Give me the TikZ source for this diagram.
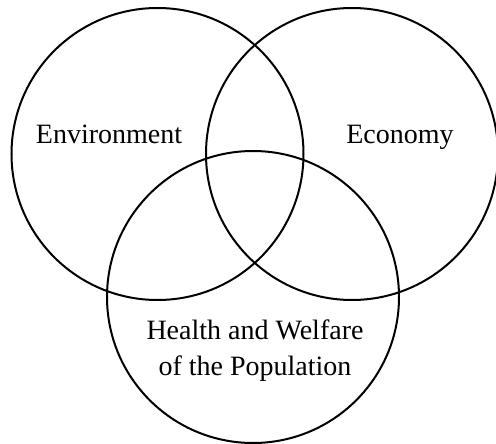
\documentclass[tikz,border=0pt]{standalone}
\usepackage{fontspec}
\setmainfont{Liberation Serif}

\begin{document}
\begin{tikzpicture}[x=1pt,y=-1pt,
  set/.style={circle,draw=black,line width=2pt,minimum size=292pt,inner sep=0pt},
  setname/.style={font=\fontsize{28}{36}\selectfont,inner sep=0pt}]
\useasboundingbox (0,0) rectangle (496,444);
\node at (157.5,154) (envset) [set] {};
\node at (352,154) (ecoset) [set] {};
\node at (253,297) (popset) [set] {};
\node at (109,143) (envname) [setname,anchor=base] {Environment};
\node at (400,143) (econame) [setname,anchor=base] {Economy};
\node at (255,320) (popname) [setname,anchor=north,align=center] {Health and Welfare\\of the Population};
\end{tikzpicture}
\end{document}
